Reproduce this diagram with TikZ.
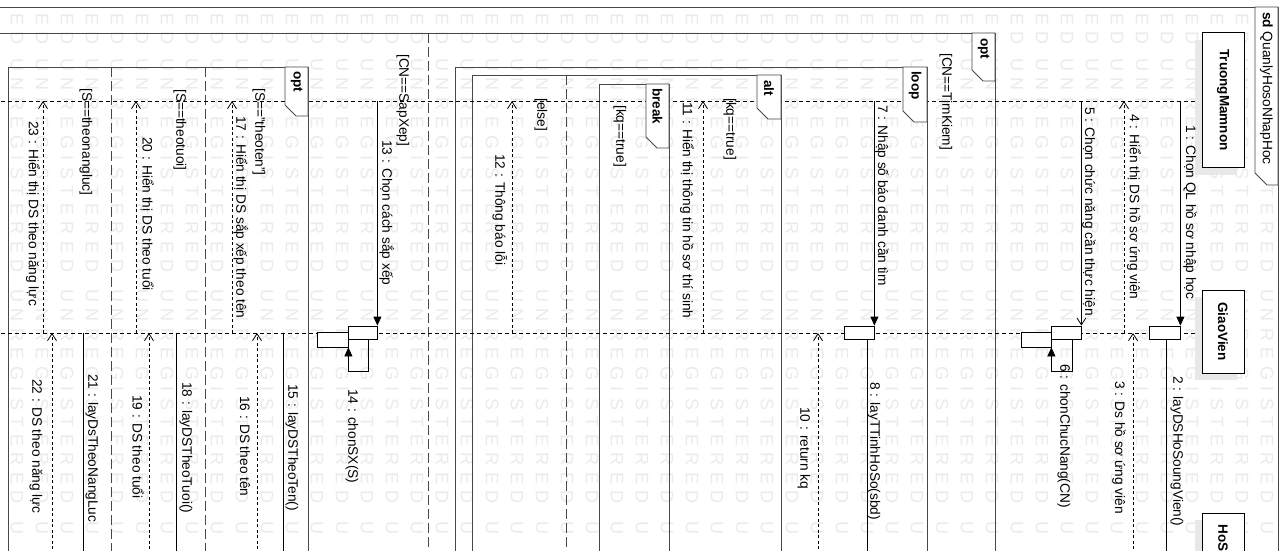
\documentclass[tikz,border=0pt]{standalone}
\usepackage{fontspec}
\setmainfont{Liberation Sans}
\usetikzlibrary{arrows.meta}
% spaced-out watermark word and its visible tails
\newcommand\wmword{U\kern6.5pt N\kern6.5pt R\kern6.5pt E\kern6.5pt G\kern6.5pt I\kern6.5pt S\kern6.5pt T\kern6.5pt E\kern6.5pt R\kern6.5pt E\kern6.5pt D}
\newcommand\wmtail{E\kern6.5pt D}
\begin{document}
\begin{tikzpicture}[x=1pt,y=-1pt,
  font=\fontsize{13.7}{16}\selectfont,
  lbl/.style={rotate=-90,anchor=west,inner sep=0pt},
  blbl/.style={lbl,font=\fontsize{13.5}{16}\selectfont\bfseries},
  frag/.style={draw=black!72,line width=0.9pt},
  tabshape/.style={draw=black!72,line width=0.9pt,fill=white},
  sep/.style={draw=black!72,line width=0.9pt,dash pattern=on 10pt off 4pt},
  life/.style={draw=black,line width=0.8pt,dash pattern=on 4pt off 3pt},
  call/.style={draw=black,line width=0.8pt,-{Triangle[length=9pt,width=8pt]}},
  async/.style={draw=black,line width=0.8pt,-{Straight Barb[length=7pt,width=9pt]}},
  reply/.style={draw=black,line width=0.8pt,dash pattern=on 3pt off 2.5pt,-{Straight Barb[length=7pt,width=9pt]}},
  plain/.style={draw=black,line width=0.8pt},
  act/.style={draw=black,line width=0.8pt,fill=white,inner sep=0pt},
  head/.style={draw=black,line width=0.8pt,fill=white,rotate=-90,inner sep=0pt,
               font=\fontsize{13.5}{16}\selectfont\bfseries},
  shade/.style={fill=black!9},
  wm/.style={rotate=-90,anchor=west,inner sep=0pt,text=black!8,font=\fontsize{18}{18}\selectfont},
]
\useasboundingbox (0,0) rectangle (1283,550);
\clip (0,0) rectangle (1283,550);
\fill[white] (0,0) rectangle (1283,550);

% watermark
\foreach \cx in {17,42,...,1267} {
  \node[wm] (wt\cx) at (\cx,13) {\wmtail};
  \node[wm] (wa\cx) at (\cx,58) {\wmword};
  \node[wm] (wb\cx) at (\cx,289) {\wmword};
  \node[wm] (wc\cx) at (\cx,521) {U};
}

% sd frame
\draw[frag] (-5,7) -- (1278,7) -- (1278,560);

% outer opt fragment
\draw[frag] (-5,33) -- (995,33) -- (995,560);
\draw[sep] (428,33) -- (428,560);

% loop fragment
\draw[frag] (455,560) -- (455,67) -- (927,67) -- (927,560);

% alt fragment
\draw[frag] (472,560) -- (472,75) -- (781,75) -- (781,560);
\draw[sep] (566,75) -- (566,560);

% break fragment
\draw[frag] (599,560) -- (599,84) -- (669,84) -- (669,560);

% inner opt fragment (sorting)
\draw[frag] (8,560) -- (8,67) -- (308,67) -- (308,560);
\draw[sep] (205,67) -- (205,560);
\draw[sep] (111,67) -- (111,560);

% lifeline anchors
\coordinate (tmL) at (1202,101);
\coordinate (gvL) at (1202,333);
\coordinate (hsL) at (1202,560);
\coordinate (tmEnd) at (-5,101);
\coordinate (gvEnd) at (-5,333);

% lifelines
\draw[life] (tmL) -- (tmEnd);
\draw[life] (gvL) -- (gvEnd);

% fragment tabs
\draw[tabshape] (1255,7) -- (1255,173) -- (1267,185) -- (1278,185) -- (1278,7) -- cycle;
\node[lbl] (sdname) at (1266.5,12) {\textbf{sd} QuanlyHosoNhapHoc};
\draw[tabshape] (972,33) -- (972,70) -- (983,81) -- (995,81) -- (995,33) -- cycle;
\node[blbl] (optA) at (983.5,38) {opt};
\draw[tabshape] (903,67) -- (903,111) -- (914,122) -- (927,122) -- (927,67) -- cycle;
\node[blbl] (loopT) at (915,71) {loop};
\draw[tabshape] (757,75) -- (757,108) -- (768,119) -- (781,119) -- (781,75) -- cycle;
\node[blbl] (altT) at (769,80) {alt};
\draw[tabshape] (646,84) -- (646,137) -- (657,148) -- (669,148) -- (669,84) -- cycle;
\node[blbl] (breakT) at (657.5,88) {break};
\draw[tabshape] (285,67) -- (285,105) -- (296,116) -- (308,116) -- (308,67) -- cycle;
\node[blbl] (optB) at (296.5,71) {opt};

% guards
\node[lbl] (g1) at (946,53) {[CN==TimKiem]};
\node[lbl] (g2) at (730,98) {[kq==true]};
\node[lbl] (g3) at (620,105) {[kq==true]};
\node[lbl] (g4) at (541,98) {[else]};
\node[lbl] (g5) at (403,54) {[CN==SapXep]};
\node[lbl] (g6) at (259,88) {[S=="theoten"]};
\node[lbl] (g7) at (180,89) {[S==theotuoi]};
\node[lbl] (g8) at (86,88) {[S==theonangluc]};

% lifeline heads
\fill[shade] (1195,39.5) rectangle (1237,174.5);
\node[head,minimum width=135pt,minimum height=42pt] (tm) at (1223,100) {TruongMamnon};
\fill[shade] (1195,297) rectangle (1237,380);
\node[head,minimum width=83pt,minimum height=42pt] (gv) at (1223,331.5) {GiaoVien};
\fill[shade] (1195,520) rectangle (1237,580);
\node[head,minimum width=58pt,minimum height=42pt] (hs) at (1223,542) {HoSo};

% activations
\node[act,minimum width=31pt,minimum height=13pt] (a1) at (1164.5,332.5) {};
\node[act,minimum width=30pt,minimum height=13pt] (a5) at (1066,332.5) {};
\node[act,minimum width=30pt,minimum height=15pt] (a6) at (1036,339.5) {};
\node[act,minimum width=30pt,minimum height=13pt] (a7) at (859,332.5) {};
\node[act,minimum width=29pt,minimum height=13pt] (a13) at (362.5,332.5) {};
\node[act,minimum width=31pt,minimum height=15pt] (a14) at (332.5,339.5) {};

% message anchor points on the GiaoVien lifeline
\coordinate (p2) at (1166,339);
\coordinate (p3) at (1133,333);
\coordinate (p4) at (1124,333);
\coordinate (p6) at (1072,339);
\coordinate (p8) at (867,339);
\coordinate (p10) at (818,333);
\coordinate (p11) at (703,333);
\coordinate (p12) at (512,333);
\coordinate (p14) at (368,339);
\coordinate (p15) at (283,333);
\coordinate (p16) at (257,333);
\coordinate (p17) at (232,333);
\coordinate (p18) at (176,333);
\coordinate (p19) at (149,333);
\coordinate (p20) at (136,333);
\coordinate (p21) at (83,333);
\coordinate (p22) at (52,333);
\coordinate (p23) at (43,333);

% messages
\draw[call] (a1.north east |- tmL) -- (a1.north east);
\draw[plain] (p2) -- (p2 |- hsL);
\draw[reply] (p3 |- hsL) -- (p3);
\draw[reply] (p4) -- (p4 |- tmL);
\draw[async] (a5.north east |- tmL) -- (a5.north east);
\draw[call] (p6) -- ++(0,32) -| (a6.south east);
\draw[call] (a7.north east |- tmL) -- (a7.north east);
\draw[plain] (p8) -- (p8 |- hsL);
\draw[reply] (p10 |- hsL) -- (p10);
\draw[reply] (p11) -- (p11 |- tmL);
\draw[reply] (p12) -- (p12 |- tmL);
\draw[call] (a13.north east |- tmL) -- (a13.north east);
\draw[call] (p14) -- ++(0,32) -| (a14.south east);
\draw[plain] (p15) -- (p15 |- hsL);
\draw[reply] (p16 |- hsL) -- (p16);
\draw[reply] (p17) -- (p17 |- tmL);
\draw[plain] (p18) -- (p18 |- hsL);
\draw[reply] (p19 |- hsL) -- (p19);
\draw[reply] (p20) -- (p20 |- tmL);
\draw[plain] (p21) -- (p21 |- hsL);
\draw[reply] (p22 |- hsL) -- (p22);
\draw[reply] (p23) -- (p23 |- tmL);

% message labels
\node[lbl] (l1) at (1190,125) {1 : Chọn QL hồ sơ nhập học};
\node[lbl] (l2) at (1177,376) {2 : layDSHoSoungVien()};
\node[lbl] (l3) at (1119,381) {3 : Ds hồ sơ ứng viên};
\node[lbl] (l4) at (1134,114) {4 : Hiển thị DS hồ sơ ứng viên};
\node[lbl] (l5) at (1089,107) {5 : Chọn chức năng cần thực hiện};
\node[lbl] (l6) at (1064,364) {6 : chonChucNang(CN)};
\node[lbl] (l7) at (882,105) {7 : Nhập số báo danh cần tìm};
\node[lbl] (l8) at (874,382) {8 : layTTinhHoSo(sbd)};
\node[lbl] (l10) at (804,407) {10 : return kq};
\node[lbl] (l11) at (687,102) {11 : Hiển thị thông tin hồ sơ thí sinh};
\node[lbl] (l12) at (500,154) {12 : Thông báo lỗi};
\node[lbl] (l13) at (387,140) {13 : Chọn cách sắp xếp};
\node[lbl] (l14) at (352,389) {14 : chonSX(S)};
\node[lbl] (l15) at (292,384) {15 : layDSTheoTen()};
\node[lbl] (l16) at (245,396) {16 : DS theo tên};
\node[lbl] (l17) at (241,116) {17 : Hiển thị DS sắp xếp theo tên};
\node[lbl] (l18) at (186,382) {18 : layDSTheoTuoi()};
\node[lbl] (l19) at (138,395) {19 : DS theo tuổi};
\node[lbl] (l20) at (147,137) {20 : Hiển thị DS theo tuổi};
\node[lbl] (l21) at (92,374) {21 : layDsTheoNangLuc};
\node[lbl] (l22) at (36,379) {22 : DS theo năng lực};
\node[lbl] (l23) at (33,121) {23 : Hiển thị DS theo năng lực};
\end{tikzpicture}
\end{document}
